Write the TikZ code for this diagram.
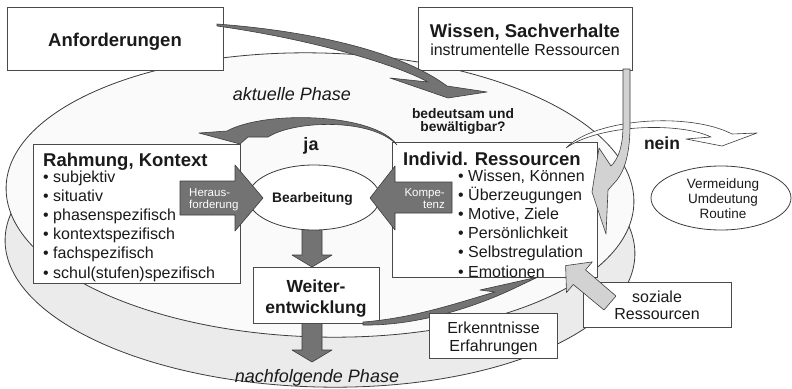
\documentclass[tikz,border=0pt]{standalone}
\usepackage{fontspec}
\setmainfont{Liberation Sans}
\usetikzlibrary{shapes.geometric}
\definecolor{darkg}{HTML}{737373}
\definecolor{lightg}{HTML}{D2D2D2}
\definecolor{lineC}{HTML}{3C3C3C}
\definecolor{boxC}{HTML}{4A4A4A}
\definecolor{txtC}{HTML}{1A1A1A}
\definecolor{upperE}{HTML}{FAFAFA}
\definecolor{lowerE}{HTML}{EBEBEB}
\begin{document}
\begin{tikzpicture}[x=1pt,y=-1pt,
  box/.style={draw=boxC, fill=white, line width=0.9pt, inner sep=0pt, rectangle},
  darrow/.style={fill=darkg, draw=lineC, line width=0.6pt, line join=round},
  larrow/.style={fill=lightg, draw=lineC, line width=0.6pt, line join=round},
  warrow/.style={fill=white, draw=lineC, line width=0.6pt, line join=round},
  txt/.style={inner sep=0pt, text=txtC},
  ttl/.style={txt, font=\bfseries\fontsize{18.5}{20}\selectfont},
  item/.style={txt, font=\fontsize{16}{19}\selectfont, anchor=base west},
  norm/.style={txt, font=\fontsize{16}{19}\selectfont, anchor=base},
  small/.style={txt, font=\fontsize{13.5}{16}\selectfont, anchor=base},
  sbold/.style={txt, font=\bfseries\fontsize{13.8}{16}\selectfont, anchor=base},
  wtxt/.style={inner sep=0pt, text=white, font=\fontsize{11.5}{13}\selectfont},
  ital/.style={txt, font=\itshape\fontsize{18}{20}\selectfont, anchor=base},
  ell/.style={draw=lineC, line width=0.8pt},
]
\useasboundingbox[fill=white] (0,0) rectangle (792,388);

% phase ellipses
\draw[ell, fill=lowerE, rotate around={-1.5:(320,247)}] (320,247) ellipse [x radius=315pt, y radius=140pt];
\draw[ell, fill=upperE, rotate around={-1.5:(320,195)}] (320,195) ellipse [x radius=314pt, y radius=142pt];

\node[ital] (akt) at (292,100) {aktuelle Phase};
\node[ital] (nach) at (317,382) {nachfolgende Phase};

% top boxes
\node[box, minimum width=216pt, minimum height=63pt] (anf) at (115,38.5) {};
\node[ttl, anchor=base] (anft) at (115,46) {Anforderungen};
\node[box, minimum width=214pt, minimum height=63pt] (wis) at (525,38.5) {};
\node[ttl, anchor=base] (wist1) at (525,37.5) {Wissen, Sachverhalte};
\node[norm] (wist2) at (525,55) {instrumentelle Ressourcen};

% Anforderungen arrow
\draw[darrow] (217,24) .. controls (310,31) and (400,51) .. (447,86) -- (487,92) -- (448,98) -- (390,78) -- (428,82) .. controls (395,64) and (310,39) .. (217,26) -- cycle;

\node[sbold] (bed1) at (463,118) {bedeutsam und};
\node[sbold] (bed2) at (463,131) {bewältigbar?};

% down arrow 1 (under Bearbeitung)
\draw[darrow] (302,220) -- (302,255) -- (292,255) -- (312,267) -- (332,255) -- (322,255) -- (322,220);

% Bearbeitung
\node[draw=lineC, fill=white, line width=0.8pt, ellipse, minimum width=132pt, minimum height=65pt, inner sep=0pt] (bea) at (314,197.5) {};
\node[sbold] (beat) at (312.5,202.5) {Bearbeitung};

% Rahmung box
\node[box, minimum width=207pt, minimum height=139pt] (rahm) at (136.5,213.5) {};
\node[ttl, anchor=base west] (rahmt) at (43,166) {Rahmung, Kontext};
\foreach \t [count=\i from 0] in {subjektiv,situativ,phasenspezifisch,kontextspezifisch,fachspezifisch,schul(stufen)spezifisch}
  \node[item] (rk\i) at (43,{182+19.2*\i}) {• \t};

% Individ box
\node[box, minimum width=205pt, minimum height=135pt] (ind) at (494.5,209.5) {};
\node[ttl, anchor=base west] (indt) at (403,165) {Individ. Ressourcen};
\foreach \t [count=\i from 0] in {{Wissen, Können},Überzeugungen,{Motive, Ziele},Persönlichkeit,Selbstregulation,Emotionen}
  \node[item] (ir\i) at (458,{181+19.2*\i}) {• \t};

% Herausforderung arrow
\draw[darrow] (180,181) -- (235,181) -- (235,165) -- (263,198) -- (235,231) -- (235,215) -- (180,215) -- cycle;
\node[wtxt, anchor=base west] (her1) at (189,196) {Heraus-};
\node[wtxt, anchor=base west] (her2) at (189,208.5) {forderung};

% Kompetenz arrow
\draw[darrow] (452,182) -- (395,182) -- (395,166) -- (370,198) -- (395,230) -- (395,213) -- (452,213) -- cycle;
\node[wtxt, anchor=base east] (kom1) at (445,196) {Kompe-};
\node[wtxt, anchor=base east] (kom2) at (445,208.5) {tenz};

% ja arrow
\draw[darrow] (397,145) .. controls (375,113) and (265,110) .. (227,131) -- (199,133) -- (240,144) -- (248,137) -- (268,137) .. controls (295,120) and (372,118) .. (397,145) -- cycle;
\node[txt, font=\bfseries\fontsize{18}{20}\selectfont, anchor=base] (ja) at (311,150) {ja};

% nein arrow
\draw[warrow] (566,148) .. controls (595,118) and (690,112) .. (732,134) -- (757,133) -- (722,146) -- (686,139) -- (711,137) .. controls (680,122) and (600,124) .. (566,148) -- cycle;
\node[txt, font=\bfseries\fontsize{17.5}{20}\selectfont, anchor=base] (nein) at (662,149) {nein};

% Wissen arrow
\draw[larrow] (623,69) -- (623,125) .. controls (623,145) and (619,158) .. (611,166) -- (599,148) -- (592,192) -- (606,234) -- (608,190) -- (617,180) .. controls (626,168) and (630,150) .. (630,125) -- (630,69) -- cycle;

% Vermeidung
\node[draw=lineC, fill=white, line width=0.8pt, ellipse, minimum width=140pt, minimum height=64pt, inner sep=0pt] (verm) at (721,198) {};
\node[small] (v1) at (723,188) {Vermeidung};
\node[small] (v2) at (723,203) {Umdeutung};
\node[small] (v3) at (723,218.5) {Routine};

% Weiterentwicklung
\draw[darrow] (302,315) -- (302,350) -- (292,350) -- (312,362) -- (332,350) -- (322,350) -- (322,315);
\node[box, minimum width=126pt, minimum height=56pt] (weit) at (316,295) {};
\node[txt, font=\bfseries\fontsize{17.5}{20}\selectfont, anchor=base] (w1) at (316,292.5) {Weiter-};
\node[txt, font=\bfseries\fontsize{17.5}{20}\selectfont, anchor=base] (w2) at (316,313) {entwicklung};

% Erkenntnisse arrow
\draw[darrow] (363,322) .. controls (415,318) and (460,302) .. (495,292) -- (480,290) -- (538,277) -- (517,287) .. controls (480,305) and (420,326) .. (363,325) -- cycle;

% Erkenntnisse box
\node[box, minimum width=128pt, minimum height=45pt] (erk) at (493,335.5) {};
\node[norm] (e1) at (493.5,333) {Erkenntnisse};
\node[norm] (e2) at (493.5,351.5) {Erfahrungen};

% soziale box
\node[box, minimum width=148pt, minimum height=45pt] (soz) at (657,304.5) {};
\node[norm] (s1) at (657,302) {soziale};
\node[norm] (s2) at (657,319) {Ressourcen};

% soziale arrow
\draw[larrow] (616,296) -- (585.5,269.9) -- (592.3,261.9) -- (565.6,265.6) -- (566.5,292.5) -- (573.3,284.5) -- (604,310) -- cycle;
\end{tikzpicture}
\end{document}
